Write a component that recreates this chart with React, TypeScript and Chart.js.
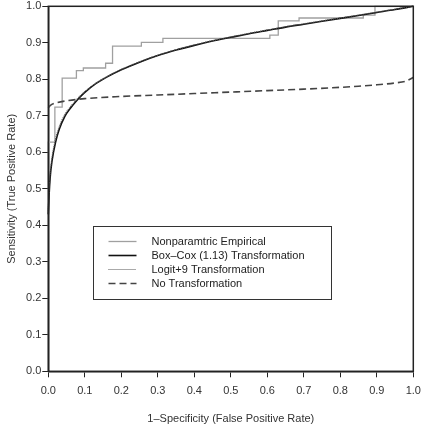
import React, { useEffect, useRef } from "react";
import { Chart, registerables } from "chart.js";

Chart.register(...registerables);

// Nonparametric empirical ROC (step corners, stepped "after")
const empFpr = [0, 0, 0.018, 0.038, 0.077, 0.096, 0.157, 0.176, 0.255, 0.314, 0.607, 0.63, 0.687, 0.863, 0.895, 0.944, 1.0];
const empTpr = [0, 0.49, 0.628, 0.724, 0.803, 0.824, 0.831, 0.844, 0.891, 0.901, 0.912, 0.921, 0.96, 0.968, 0.976, 1.0, 1.0];

// Box-Cox (1.13) transformation smooth ROC
const bcFpr = [0, 0.002, 0.005, 0.01, 0.02, 0.03, 0.045, 0.06, 0.08, 0.1, 0.13, 0.16, 0.2, 0.25, 0.3, 0.35, 0.4, 0.45, 0.5, 0.55, 0.6, 0.65, 0.7, 0.75, 0.8, 0.85, 0.9, 0.95, 1.0];
const bcTpr = [0.43, 0.48, 0.53, 0.575, 0.628, 0.663, 0.698, 0.72, 0.744, 0.764, 0.788, 0.806, 0.826, 0.847, 0.865, 0.88, 0.893, 0.905, 0.915, 0.925, 0.934, 0.943, 0.951, 0.959, 0.967, 0.975, 0.983, 0.991, 1.0];

// Logit+9 transformation smooth ROC
const lgFpr = [0, 0.002, 0.005, 0.01, 0.02, 0.03, 0.045, 0.06, 0.08, 0.1, 0.13, 0.16, 0.2, 0.25, 0.3, 0.35, 0.4, 0.45, 0.5, 0.55, 0.6, 0.65, 0.7, 0.75, 0.8, 0.85, 0.9, 0.95, 1.0];
const lgTpr = [0.44, 0.49, 0.54, 0.585, 0.636, 0.67, 0.703, 0.724, 0.747, 0.766, 0.789, 0.807, 0.827, 0.848, 0.866, 0.881, 0.894, 0.906, 0.916, 0.926, 0.935, 0.944, 0.952, 0.96, 0.968, 0.976, 0.984, 0.992, 1.0];

// No transformation smooth ROC
const ntFpr = [0, 0.005, 0.02, 0.05, 0.1, 0.2, 0.3, 0.4, 0.5, 0.6, 0.7, 0.8, 0.85, 0.9, 0.95, 0.98, 1.0];
const ntTpr = [0.722, 0.728, 0.735, 0.741, 0.747, 0.753, 0.757, 0.761, 0.765, 0.769, 0.773, 0.778, 0.781, 0.785, 0.79, 0.795, 0.805];

const axisTicks = [0, 0.1, 0.2, 0.3, 0.4, 0.5, 0.6, 0.7, 0.8, 0.9, 1.0];
const seriesNames = ["Nonparamtric Empirical", "Box\u2013Cox (1.13) Transformation", "Logit+9 Transformation", "No Transformation"];
const xTitle = "1\u2013Specificity (False Positive Rate)";
const yTitle = "Sensitivity (True Positive Rate)";

const pts = (xs: number[], ys: number[]) => xs.map((x, i) => ({ x, y: ys[i] }));

const FONT = "'Liberation Sans', Arial, Helvetica, sans-serif";

const styles = [
  { color: "#a0a0a0", width: 1.3, dash: [] as number[] },
  { color: "#111111", width: 1.6, dash: [] as number[] },
  { color: "#555555", width: 1.2, dash: [1, 1] },
  { color: "#444444", width: 1.6, dash: [7, 4] },
];

const boxPlugin = {
  id: "boxAndLegend",
  afterDraw(chart: any) {
    const { ctx, chartArea } = chart;
    const xs = chart.scales.x;
    const ys = chart.scales.y;
    ctx.save();
    // frame
    ctx.strokeStyle = "#222";
    ctx.lineWidth = 1.5;
    ctx.strokeRect(chartArea.left, chartArea.top, chartArea.right - chartArea.left, chartArea.bottom - chartArea.top);
    // legend box
    const lx = Math.round(xs.getPixelForValue(0.122)) + 0.5;
    const ly = Math.round(ys.getPixelForValue(0.398)) + 0.5;
    const lw = 238;
    const lh = 73;
    ctx.fillStyle = "#fff";
    ctx.fillRect(lx, ly, lw, lh);
    ctx.strokeStyle = "#333";
    ctx.lineWidth = 1;
    ctx.setLineDash([]);
    ctx.strokeRect(lx, ly, lw, lh);
    ctx.font = `11px ${FONT}`;
    ctx.textBaseline = "middle";
    ctx.textAlign = "left";
    for (let i = 0; i < seriesNames.length; i++) {
      const y = Math.round(ly + 14 + i * 14) + 0.5;
      const s = styles[i];
      ctx.beginPath();
      ctx.strokeStyle = s.color;
      ctx.lineWidth = i === 2 ? 1 : s.width;
      ctx.setLineDash(s.dash);
      ctx.moveTo(lx + 15, y);
      ctx.lineTo(lx + 43, y);
      ctx.stroke();
      ctx.setLineDash([]);
      ctx.fillStyle = "#222";
      ctx.fillText(seriesNames[i], lx + 58, y);
    }
    ctx.restore();
  },
};

export default function App() {
  const ref = useRef<HTMLCanvasElement | null>(null);
  useEffect(() => {
    document.body.style.margin = "0";
    if (!ref.current) return;
    const data = [pts(empFpr, empTpr), pts(bcFpr, bcTpr), pts(lgFpr, lgTpr), pts(ntFpr, ntTpr)];
    const orders = [4, 2, 1, 3];
    const chart = new Chart(ref.current, {
      type: "line",
      data: {
        datasets: data.map((d, i) => ({
          label: seriesNames[i],
          data: d,
          borderColor: styles[i].color,
          borderWidth: styles[i].width,
          borderDash: styles[i].dash,
          pointRadius: 0,
          fill: false,
          stepped: i === 0 ? "after" : false,
          cubicInterpolationMode: i === 0 ? "default" : "monotone",
          tension: i === 0 ? 0 : 0.4,
          order: orders[i],
          clip: 4,
        })) as any,
      },
      options: {
        animation: false,
        responsive: false,
        devicePixelRatio: 1,
        layout: { padding: { top: 6.3, right: 8.7, left: 0, bottom: 0 } },
        plugins: { legend: { display: false }, tooltip: { enabled: false } },
        scales: {
          x: {
            type: "linear",
            min: 0,
            max: 1,
            afterBuildTicks: (s: any) => { s.ticks = axisTicks.map((v) => ({ value: v })); },
            afterFit: (s: any) => { s.height = 54.7; s.paddingLeft = 0; s.paddingRight = 0; },
            ticks: {
              font: { family: FONT, size: 11 },
              color: "#333",
              padding: 7,
              maxRotation: 0,
              autoSkip: false,
              callback: (v: any) => Number(v).toFixed(1),
            },
            grid: { drawOnChartArea: false, drawTicks: true, tickLength: 6, tickColor: "#222", tickWidth: 1 },
            border: { display: true, color: "#222", width: 1.5 },
            title: { display: true, text: xTitle, font: { family: FONT, size: 11 }, color: "#333", padding: { top: 0, bottom: 0.5 } },
          },
          y: {
            type: "linear",
            min: 0,
            max: 1,
            afterBuildTicks: (s: any) => { s.ticks = axisTicks.map((v) => ({ value: v })); },
            afterFit: (s: any) => { s.width = 48.3; s.paddingTop = 0; s.paddingBottom = 0; },
            ticks: {
              font: { family: FONT, size: 11 },
              color: "#333",
              padding: 1,
              autoSkip: false,
              callback: (v: any) => Number(v).toFixed(1),
            },
            grid: { drawOnChartArea: false, drawTicks: true, tickLength: 6, tickColor: "#222", tickWidth: 1 },
            border: { display: true, color: "#222", width: 1.5 },
            title: { display: true, text: yTitle, font: { family: FONT, size: 11 }, color: "#333", padding: { top: 5.5, bottom: 0 } },
          },
        },
      },
      plugins: [boxPlugin],
    });
    return () => chart.destroy();
  }, []);
  return (
    <div style={{ width: 422, height: 426 }}>
      <canvas ref={ref} width={422} height={426} style={{ display: "block" }} />
    </div>
  );
}
